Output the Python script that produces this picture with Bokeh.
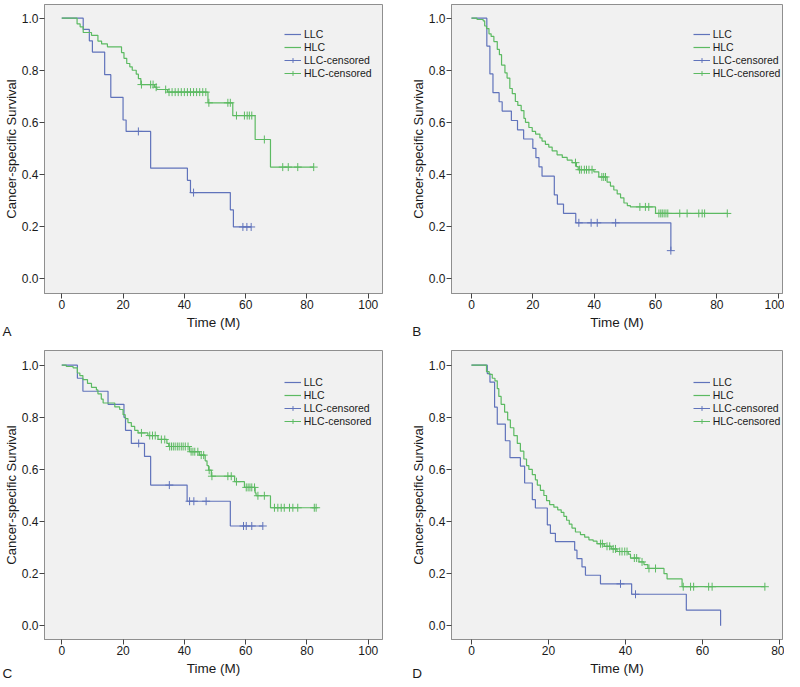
import numpy as np
from bokeh.plotting import figure
from bokeh.layouts import column, row
from bokeh.models import Range1d, FixedTicker, PrintfTickFormatter, Label, Legend, LegendItem
from bokeh.embed import file_html
from bokeh.resources import INLINE

# ---------------- data ----------------
# Panel A
A_llc_t = [7, 9, 10, 14, 16, 20, 21, 29, 41, 42, 55, 56]
A_llc_s = [0.957, 0.913, 0.870, 0.783, 0.696, 0.609, 0.565, 0.424, 0.377, 0.330, 0.264, 0.198]
A_llc_c = [25, 43, 59.1, 60.4, 61.8]
A_hlc_t = [5, 6, 7, 9.7, 11.8, 13, 14.9, 19.5, 20.3, 21.2, 22.2, 23, 24.3, 25, 25.8, 30.3, 31, 34.5, 47.7, 55.8, 63.1, 68.1]
A_hlc_s = [0.978, 0.967, 0.945, 0.934, 0.912, 0.901, 0.89, 0.868, 0.846, 0.826, 0.813, 0.80, 0.785, 0.768, 0.745, 0.735, 0.726, 0.716, 0.675, 0.626, 0.534, 0.428]
A_hlc_c = [26, 29, 29.8, 30.8, 33.9, 35, 36, 37, 38, 39, 40, 41, 42, 43, 44, 45, 46, 47, 48, 54.2, 55, 57, 59.6, 60.5, 61.2, 62, 66.1, 72.1, 73.9, 77, 82.2]

# Panel B
B_llc_t = [5, 6, 7, 9, 10, 13, 15, 17, 20, 21, 22, 23, 27, 28, 30, 34, 65]
B_llc_s = [0.893, 0.786, 0.714, 0.679, 0.643, 0.607, 0.571, 0.536, 0.5, 0.464, 0.429, 0.393, 0.321, 0.286, 0.25, 0.214, 0.107]
B_llc_c = [35, 39, 41, 47, 65]
B_hlc_t = [1.8, 3.8, 4.3, 4.9, 5.7, 6.4, 7.3, 8.4, 9.1, 9.8, 10.9, 11.6, 12.5, 13.3, 14.3, 15.1, 16.2, 17.1, 17.6, 18.7, 19.8, 20.9, 22.3, 23, 24.1, 25.2, 26.3, 27.9, 29.6, 31.2, 32.8, 34.2, 34.8, 39.9, 41.5, 44.2, 45.3, 46.4, 47.5, 48.6, 49.7, 50.8, 51.8, 60]
B_hlc_s = [0.995, 0.99, 0.97, 0.96, 0.94, 0.93, 0.91, 0.88, 0.86, 0.82, 0.79, 0.77, 0.73, 0.71, 0.68, 0.665, 0.645, 0.615, 0.60, 0.58, 0.565, 0.555, 0.54, 0.528, 0.515, 0.505, 0.49, 0.475, 0.465, 0.455, 0.445, 0.43, 0.418, 0.41, 0.39, 0.37, 0.355, 0.34, 0.325, 0.31, 0.29, 0.28, 0.275, 0.25]
B_hlc_c = [33.9, 35.2, 35.8, 36.8, 37.5, 38.3, 39.3, 42.5, 43.1, 43.7, 54.9, 56.7, 57.8, 61.1, 61.7, 62.2, 62.8, 63.4, 64, 67.9, 70.3, 74.1, 75.2, 76, 83.4]

# Panel C
C_llc_t = [5.1, 6.9, 15.1, 20.3, 20.8, 22.7, 27, 29, 40.9, 55]
C_llc_s = [0.95, 0.90, 0.85, 0.80, 0.75, 0.70, 0.65, 0.54, 0.478, 0.383]
C_llc_c = [25.1, 35.1, 41.7, 43.1, 47.1, 59.3, 60.2, 62, 65.6]
C_hlc_t = [1.5, 3.7, 5.1, 5.9, 6.9, 8.4, 9.7, 11.3, 11.8, 12.9, 13.5, 17.3, 18.9, 20, 20.7, 21.6, 22.7, 23.8, 24.9, 28.1, 31.4, 34.3, 34.9, 41.7, 44.9, 46.8, 47.4, 47.9, 48.8, 56.4, 59.6, 63.1, 63.4, 68.1]
C_hlc_s = [0.995, 0.99, 0.97, 0.96, 0.945, 0.93, 0.915, 0.905, 0.89, 0.87, 0.855, 0.84, 0.83, 0.81, 0.795, 0.78, 0.765, 0.75, 0.74, 0.73, 0.715, 0.70, 0.688, 0.668, 0.655, 0.633, 0.615, 0.597, 0.574, 0.553, 0.531, 0.51, 0.499, 0.453]
C_hlc_c = [26, 28.7, 29.6, 30.5, 32.5, 33.6, 35.2, 35.8, 36.4, 37, 37.7, 38.3, 39, 39.6, 40.3, 41.2, 42.2, 42.8, 43.4, 44.4, 45.5, 46.3, 48.1, 49, 54.2, 55.3, 57, 60.2, 60.8, 61.4, 62, 62.9, 64, 66.1, 69.4, 70.5, 71.6, 72.6, 74.3, 75.4, 77, 82.4, 83]

# Panel D
D_llc_t = [4.1, 4.8, 6.0, 6.7, 8.8, 10, 12.7, 13.8, 15.8, 16.6, 19.7, 20.5, 21.8, 26.8, 27.4, 28.7, 29.6, 33.5, 41.6, 55.8, 64.7]
D_llc_s = [0.968, 0.935, 0.839, 0.774, 0.71, 0.645, 0.613, 0.548, 0.484, 0.452, 0.387, 0.355, 0.323, 0.29, 0.258, 0.226, 0.194, 0.161, 0.121, 0.06, 0.0]
D_llc_c = [38.7, 42.6]
D_hlc_t = [3.9, 4.6, 5.4, 6.1, 6.7, 7.1, 7.7, 8.6, 9.4, 10.1, 11, 11.9, 12.7, 13.6, 14.3, 14.9, 15.8, 16.6, 17.1, 17.9, 18.8, 19.5, 20.3, 21.4, 22.4, 23.3, 24, 24.7, 25.4, 26.1, 27, 28.3, 29.4, 30.5, 31.6, 32.6, 34.5, 36.3, 37.8, 40.7, 41.3, 43.5, 44.8, 45.8, 50, 50.8, 54.7]
D_hlc_s = [0.975, 0.965, 0.95, 0.94, 0.91, 0.88, 0.85, 0.82, 0.79, 0.76, 0.73, 0.70, 0.67, 0.64, 0.615, 0.60, 0.58, 0.56, 0.54, 0.52, 0.50, 0.48, 0.465, 0.455, 0.445, 0.435, 0.42, 0.405, 0.39, 0.375, 0.36, 0.35, 0.34, 0.33, 0.325, 0.315, 0.305, 0.295, 0.285, 0.275, 0.26, 0.245, 0.235, 0.22, 0.20, 0.18, 0.15]
D_hlc_c = [33.5, 34, 35.2, 35.9, 36.8, 37.4, 38.5, 39.1, 39.8, 40.4, 42.3, 42.9, 44.3, 46.1, 47.8, 55, 56.9, 57.7, 61.6, 62.5, 76.2]

x_ticks_100 = [0, 20, 40, 60, 80, 100]
x_ticks_80 = [0, 20, 40, 60, 80]
y_ticks = [0.0, 0.2, 0.4, 0.6, 0.8, 1.0]
series_names = ["LLC", "HLC", "LLC-censored", "HLC-censored"]
x_title = "Time (M)"
y_title = "Cancer-specific Survival"

# ---------------- style ----------------
FONT = "Liberation Sans"
BLUE = "#6073bb"
GREEN = "#5cba62"
TXT = "#1a1a1a"


def step_xy(t, s, c):
    end = max([t[-1]] + list(c))
    return [0] + list(t) + [end], [1.0] + list(s) + [s[-1]]


def censor_y(t, s, c):
    idx = np.searchsorted(np.asarray(t), np.asarray(c), side="right")
    s_full = np.concatenate([[1.0], np.asarray(s)])
    return list(s_full[idx])


def panel(letter, llc, hlc, xticks, g):
    p = figure(width=g["w"], height=g["h"], output_backend="svg", toolbar_location=None,
               x_range=Range1d(g["x0"], g["x1"]), y_range=Range1d(g["y0"], g["y1"]),
               min_border_left=g["ml"], min_border_right=g["mr"],
               min_border_top=g["mt"], min_border_bottom=g["mb"])
    p.background_fill_color = "#f1f1f1"
    p.border_fill_color = "white"
    p.outline_line_color = "#8f8f8f"
    p.xgrid.visible = False
    p.ygrid.visible = False

    for ax in (p.xaxis[0], p.yaxis[0]):
        ax.axis_line_color = "#8f8f8f"
        ax.major_tick_line_color = "#444444"
        ax.major_tick_in = 0
        ax.minor_tick_line_color = None
        ax.major_label_text_font = FONT
        ax.major_label_text_font_size = "12px"
        ax.major_label_text_color = TXT
        ax.axis_label_text_font = FONT
        ax.axis_label_text_font_size = "13.5px"
        ax.axis_label_text_font_style = "normal"
        ax.axis_label_text_color = TXT
    p.xaxis.ticker = FixedTicker(ticks=xticks)
    p.xaxis.major_tick_out = 5
    p.xaxis.major_label_standoff = 1
    p.xaxis.axis_label = x_title
    p.xaxis.axis_label_standoff = 3
    p.yaxis.ticker = FixedTicker(ticks=y_ticks)
    p.yaxis.formatter = PrintfTickFormatter(format="%.1f")
    p.yaxis.major_tick_out = 5
    p.yaxis.major_label_standoff = 1
    p.yaxis.axis_label = y_title
    p.yaxis.axis_label_text_font_size = "13px"
    p.yaxis.axis_label_standoff = 0

    (lt, ls, lc), (ht, hs, hc) = llc, hlc
    lx, ly = step_xy(lt, ls, lc)
    hx, hy = step_xy(ht, hs, hc)
    r_l = p.step(lx, ly, mode="after", line_color=BLUE, line_width=1.2)
    r_h = p.step(hx, hy, mode="after", line_color=GREEN, line_width=1.2)
    lcy = censor_y(lt, ls, lc)
    hcy = censor_y(ht, hs, hc)
    r_lc = p.scatter(lc, lcy, marker="cross", size=8, line_color=BLUE, line_width=1)
    r_hc = p.scatter(hc, hcy, marker="cross", size=8, line_color=GREEN, line_width=1)
    # line part of the legend icons for the censored entries (not shown in the plot)
    d_l = p.line(lc, lcy, line_color=BLUE, line_width=1, visible=False)
    d_h = p.line(hc, hcy, line_color=GREEN, line_width=1, visible=False)

    leg = Legend(items=[LegendItem(label=series_names[0], renderers=[r_l]),
                        LegendItem(label=series_names[1], renderers=[r_h]),
                        LegendItem(label=series_names[2], renderers=[d_l, r_lc]),
                        LegendItem(label=series_names[3], renderers=[d_h, r_hc])],
                 location=g["leg"], orientation="vertical",
                 label_text_font=FONT, label_text_font_size="10.5px", label_text_color=TXT,
                 glyph_width=17, glyph_height=12, label_height=12, label_standoff=3,
                 spacing=1, padding=0, margin=0,
                 border_line_alpha=0, background_fill_alpha=0)
    p.add_layout(leg, "center")

    p.add_layout(Label(x=g["lx"], y=g["ly"], text=letter, text_align="left",
                       text_baseline="alphabetic", text_font=FONT,
                       text_font_size="13.5px", text_color=TXT), g["lside"])
    return p


top = dict(h=336, mt=4, mb=43, y0=-0.0576, y1=1.0526, ly=-0.204)
bot = dict(h=343, mt=14, mb=40, y0=-0.0526, y1=1.0564, ly=-0.184)
left = dict(w=392, ml=43, mr=10, x0=-5.63, x1=104.65, lx=-19.3, lside="right")
right100 = dict(w=392, ml=59, mr=2, x0=-6.52, x1=101.4, lx=-19.3, lside="left")
right80 = dict(w=392, ml=59, mr=2, x0=-5.19, x1=80.78, lx=-15.4, lside="left")

pa = panel("A", (A_llc_t, A_llc_s, A_llc_c), (A_hlc_t, A_hlc_s, A_hlc_c), x_ticks_100,
           {**top, **left, "leg": (240, 213.9)})
pb = panel("B", (B_llc_t, B_llc_s, B_llc_c), (B_hlc_t, B_hlc_s, B_hlc_c), x_ticks_100,
           {**top, **right100, "leg": (241.7, 213.9)})
pc = panel("C", (C_llc_t, C_llc_s, C_llc_c), (C_hlc_t, C_hlc_s, C_hlc_c), x_ticks_100,
           {**bot, **left, "leg": (239.7, 212.2)})
pd = panel("D", (D_llc_t, D_llc_s, D_llc_c), (D_hlc_t, D_hlc_s, D_hlc_c), x_ticks_80,
           {**bot, **right80, "leg": (241.7, 212.2)})

layout = column(row(pa, pb), row(pc, pd))
open("out.html", "w").write(file_html(layout, INLINE))
